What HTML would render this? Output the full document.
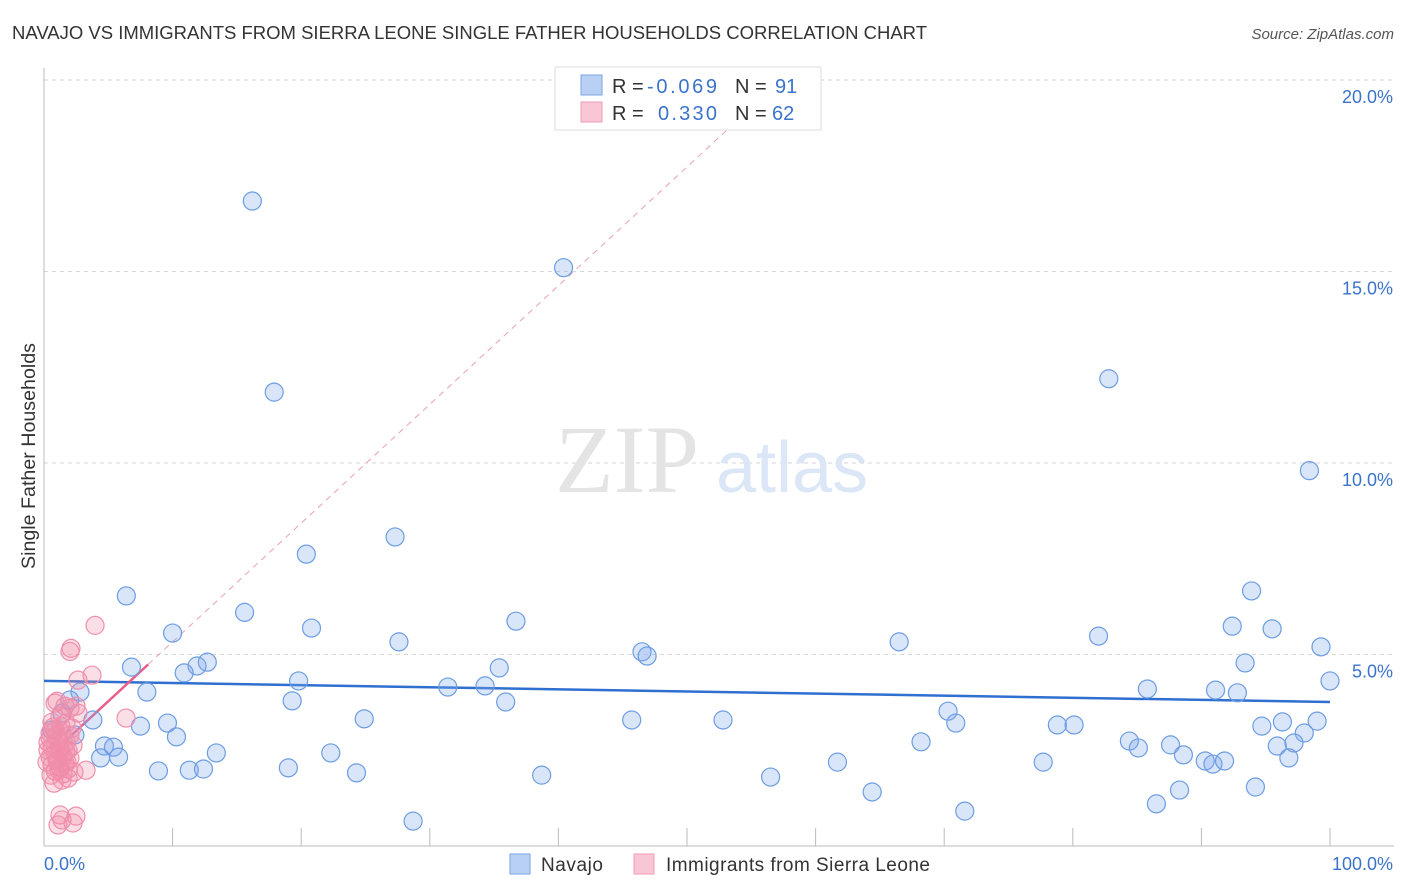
<!DOCTYPE html>
<html><head><meta charset="utf-8"><style>
body{margin:0;background:#fff;font-family:"Liberation Sans",sans-serif;}
</style></head><body>
<svg width="1406" height="892" xmlns="http://www.w3.org/2000/svg" style="display:block">
<text x="12" y="39" font-size="18.5" fill="#333" textLength="915" lengthAdjust="spacingAndGlyphs">NAVAJO VS IMMIGRANTS FROM SIERRA LEONE SINGLE FATHER HOUSEHOLDS CORRELATION CHART</text>
<text x="1394" y="39" font-size="15" fill="#555" font-style="italic" text-anchor="end">Source: ZipAtlas.com</text>
<g id="grid"></g>
<g id="axes"></g>
<text x="555" y="492" font-size="96" fill="#e4e4e4" font-family="Liberation Serif,serif">ZIP</text>
<text x="716" y="492" font-size="72" fill="#dbe6f6">atlas</text>
<g id="lines"></g>
<g id="pts"></g>
<text x="35" y="456" font-size="19" fill="#333" transform="rotate(-90 35 456)" text-anchor="middle" textLength="226" lengthAdjust="spacingAndGlyphs">Single Father Households</text>
<text x="44" y="870" font-size="18" fill="#3b73cc">0.0%</text>
<text x="1393" y="870" font-size="18" fill="#3b73cc" text-anchor="end">100.0%</text>
<g>
<rect x="555" y="67" width="266" height="63" fill="#fff" stroke="#ddd"/>
<rect x="581" y="75" width="21" height="20" fill="#b8d0f3" stroke="#7aa4e0"/>
<rect x="581" y="102" width="21" height="20" fill="#f9c6d5" stroke="#f09ab3"/>
<text x="612" y="93" font-size="20" fill="#333">R =</text><text x="647" y="93" font-size="20" fill="#3b73cc" textLength="70">-0.069</text>
<text x="735" y="93" font-size="20" fill="#333">N =</text><text x="775" y="93" font-size="20" fill="#3b73cc">91</text>
<text x="612" y="120" font-size="20" fill="#333">R =</text><text x="658" y="120" font-size="20" fill="#3b73cc" textLength="59">0.330</text>
<text x="735" y="120" font-size="20" fill="#333">N =</text><text x="772" y="120" font-size="20" fill="#3b73cc">62</text>
</g>
<g>
<rect x="510" y="854" width="20" height="20" fill="#b8d0f3" stroke="#7aa4e0"/>
<text x="541" y="871" font-size="19" fill="#333" textLength="62">Navajo</text>
<rect x="634" y="854" width="20" height="20" fill="#f9c6d5" stroke="#f09ab3"/>
<text x="666" y="871" font-size="19" fill="#333" textLength="264">Immigrants from Sierra Leone</text>
</g>
</svg>
<script>
const yTicks=[5,10,15,20];
const yTickLabels=["5.0%","10.0%","15.0%","20.0%"];
const xTicks=[10,20,30,40,50,60,70,80,90,100];
const navajoX=[16.2,40.4,17.9,82.8,98.4,27.3,20.4,6.4,15.6,93.9,10.0,20.8,36.7,27.6,92.4,95.5,82.0,66.5,99.3,46.5,46.9,6.8,12.7,11.9,10.9,35.4,93.4,100,2.8,8.0,19.8,31.4,34.3,85.8,91.1,92.8,19.3,35.9,70.3,24.9,45.7,52.8,70.9,78.8,80.1,94.7,96.3,99.0,98.0,3.8,1.4,7.5,9.6,10.3,13.4,68.2,84.4,85.1,87.6,88.6,95.9,97.2,96.8,4.7,5.4,4.4,5.8,22.3,61.7,77.7,90.3,90.9,91.8,8.9,11.3,12.4,19.0,24.3,38.7,56.5,94.2,88.3,64.4,86.5,71.6,28.7,2.0,0.6,2.4];
const navajoY=[16.84,15.1,11.85,12.2,9.8,8.07,7.62,6.53,6.1,6.66,5.56,5.69,5.87,5.33,5.74,5.67,5.48,5.33,5.2,5.07,4.96,4.67,4.8,4.7,4.52,4.65,4.78,4.31,4.02,4.02,4.31,4.15,4.18,4.1,4.07,4.0,3.79,3.76,3.52,3.32,3.29,3.29,3.21,3.16,3.16,3.13,3.24,3.26,2.95,3.29,3.47,3.13,3.21,2.85,2.43,2.72,2.74,2.56,2.64,2.38,2.61,2.69,2.3,2.61,2.58,2.3,2.32,2.43,2.19,2.19,2.22,2.14,2.22,1.96,1.98,2.01,2.04,1.91,1.85,1.8,1.54,1.46,1.41,1.1,0.91,0.65,3.81,3.03,2.9];
const sierraX=[3.97,2.02,2.10,2.64,3.73,0.86,1.01,1.63,2.02,2.49,2.64,6.38,1.24,0.62,1.71,0.86,1.40,2.02,0.47,1.09,1.71,2.26,0.62,1.24,1.87,0.86,1.48,0.47,2.02,1.01,1.63,0.62,1.24,1.87,3.27,0.86,1.48,0.78,1.40,1.87,1.09,0.31,1.56,0.93,0.70,1.32,2.18,0.31,1.71,1.17,1.24,1.40,2.49,1.09,2.26,0.47,1.79,2.33,0.54,0.23,1.32,0.86];
const sierraY=[5.76,5.08,5.16,4.33,4.46,3.73,3.78,3.65,3.60,3.65,3.47,3.34,3.39,3.23,3.21,3.02,2.95,2.89,2.82,2.74,2.71,2.63,2.58,2.56,2.50,2.40,2.35,2.32,2.29,2.22,2.16,2.11,2.06,2.01,1.98,1.96,1.88,1.64,1.72,1.77,2.24,2.50,2.66,2.87,3.10,3.13,3.08,2.71,2.45,1.98,0.81,0.68,0.78,0.55,0.60,2.95,2.19,1.93,1.85,2.19,2.45,2.63];
const navajoTrend=[4.31,3.76];
const sierraTrend=[2.23,0.31];
const X0=44,X1=1330,YB=846,YT=80;
const sx=v=>X0+(X1-X0)*v/100;
const sy=v=>YB-(YB-YT)*v/20;
const NS="http://www.w3.org/2000/svg";
function mk(t,a,p){const e=document.createElementNS(NS,t);for(const k in a)e.setAttribute(k,a[k]);p.appendChild(e);return e;}
const grid=document.getElementById('grid'),axes=document.getElementById('axes'),lines=document.getElementById('lines'),pts=document.getElementById('pts');
yTicks.forEach((v,i)=>{
 const l=mk('line',{x1:X0,x2:1394,y1:sy(v),y2:sy(v),stroke:'#d6d6d6','stroke-dasharray':'4,4'},grid);
 
 
 const t=mk('text',{x:1393,y:sy(v)+23,'font-size':18,fill:'#3b73cc','text-anchor':'end'},grid);
 t.textContent=yTickLabels[i];
 
 
});
const ya=mk('line',{x1:X0,x2:X0,y1:68,y2:YB,stroke:'#bbb'},axes);


const xa=mk('line',{x1:X0,x2:1394,y1:YB,y2:YB,stroke:'#bbb'},axes);


xTicks.forEach(v=>{
 const t=mk('line',{x1:sx(v),x2:sx(v),y1:828,y2:YB,stroke:'#bbb'},axes);
 
 
});
function addPts(xs,ys,fill,stroke,name){
 xs.forEach((x,i)=>{
  const c=mk('circle',{cx:sx(x),cy:sy(ys[i]),r:9,fill:fill,stroke:stroke,'stroke-width':1.2},pts);
  
  
 });
}
addPts(navajoX,navajoY,'rgba(130,170,235,0.3)','#6d9de2','navajo-point');
addPts(sierraX,sierraY,'rgba(242,140,170,0.28)','#f08fab','sierra-leone-point');
const nl=mk('line',{x1:sx(0),x2:sx(100),y1:sy(navajoTrend[0]),y2:sy(navajoTrend[1]),stroke:'#2f6fd0','stroke-width':2.5},lines);


const f=x=>sierraTrend[0]+sierraTrend[1]*x;
const sd=mk('line',{x1:sx(8.1),x2:sx(57),y1:sy(f(8.1)),y2:sy(f(57)),stroke:'#e8a0b5','stroke-width':1,'stroke-dasharray':'6,5'},lines);


const sl=mk('line',{x1:sx(1.5),x2:sx(8.1),y1:sy(f(1.5)),y2:sy(f(8.1)),stroke:'#e8608a','stroke-width':2.5},lines);


</script>
</body></html>
